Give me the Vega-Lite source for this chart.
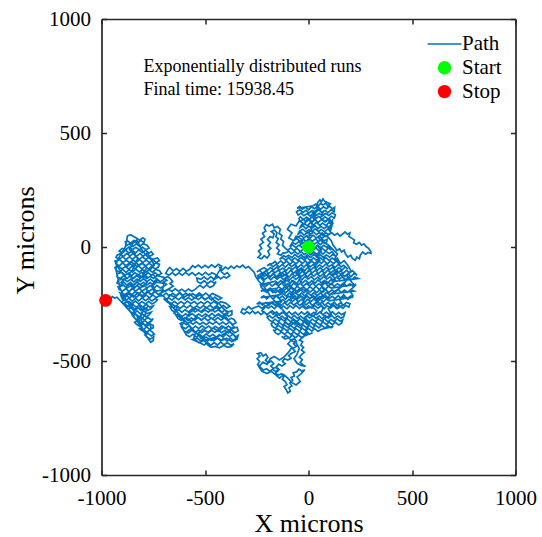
{
"$schema": "https://vega.github.io/schema/vega-lite/v6.json",
"width": 414, "height": 456,
"autosize": "none",
"padding": {"left": 101.5, "top": 19, "right": 26.5, "bottom": 62},
"background": "white",
"config": {"view": {"stroke": null}, "font": "Liberation Serif",
  "legend": {"labelFont": "Liberation Serif", "labelFontSize": 21, "labelColor": "#000", "symbolSize": 140, "padding": 0, "rowPadding": 1.8, "labelOffset": 7}},
"datasets": {
"path": [
{"x":0,"y":0},{"x":8,"y":12},{"x":-4,"y":22},{"x":6,"y":35},{"x":-6,"y":44},{"x":10,"y":52},{"x":2,"y":66},{"x":16,"y":74},{"x":8,"y":88},{"x":22,"y":96},{"x":14,"y":110},{"x":28,"y":118},{"x":20,"y":132},{"x":36,"y":140},{"x":28,"y":154},{"x":44,"y":162},{"x":38,"y":176},{"x":45,"y":196},
{"x":55,"y":207},{"x":62,"y":198},{"x":70,"y":211},{"x":78,"y":200},
{"x":105,"y":190},{"x":92,"y":180},{"x":84,"y":193},{"x":70,"y":184},{"x":58,"y":191},{"x":46,"y":178},{"x":34,"y":188},{"x":24,"y":181},
{"x":-55,"y":170},{"x":-42,"y":178},{"x":-30,"y":166},{"x":-14,"y":175},{"x":0,"y":163},{"x":14,"y":176},{"x":28,"y":168},{"x":44,"y":178},{"x":58,"y":165},{"x":72,"y":176},{"x":88,"y":168},{"x":102,"y":179},{"x":116,"y":167},{"x":126,"y":174},
{"x":124,"y":155},{"x":108,"y":163},{"x":94,"y":150},{"x":80,"y":161},{"x":64,"y":152},{"x":48,"y":164},{"x":34,"y":151},{"x":18,"y":160},{"x":2,"y":149},{"x":-12,"y":161},{"x":-26,"y":152},{"x":-42,"y":163},{"x":-58,"y":155},
{"x":-50,"y":140},{"x":-36,"y":149},{"x":-22,"y":137},{"x":-6,"y":147},{"x":8,"y":136},{"x":24,"y":150},{"x":38,"y":139},{"x":52,"y":148},{"x":68,"y":136},{"x":82,"y":147},{"x":98,"y":138},{"x":114,"y":150},{"x":130,"y":141},
{"x":125,"y":127},{"x":110,"y":135},{"x":96,"y":122},{"x":80,"y":132},{"x":66,"y":121},{"x":50,"y":134},{"x":36,"y":124},{"x":20,"y":135},{"x":6,"y":122},{"x":-10,"y":131},{"x":-24,"y":120},{"x":-40,"y":133},{"x":-46,"y":125},
{"x":-40,"y":112},{"x":-26,"y":121},{"x":-12,"y":110},{"x":4,"y":122},{"x":18,"y":109},{"x":32,"y":119},{"x":48,"y":108},{"x":62,"y":121},{"x":78,"y":111},{"x":92,"y":120},{"x":106,"y":108},{"x":116,"y":117},
{"x":112,"y":99},{"x":98,"y":107},{"x":84,"y":94},{"x":68,"y":105},{"x":54,"y":95},{"x":38,"y":108},{"x":24,"y":96},{"x":8,"y":106},{"x":-6,"y":93},{"x":-20,"y":104},{"x":-34,"y":97},
{"x":-40,"y":85},{"x":-26,"y":93},{"x":-12,"y":80},{"x":2,"y":92},{"x":16,"y":82},{"x":32,"y":94},{"x":46,"y":81},{"x":60,"y":91},{"x":76,"y":80},{"x":90,"y":92},{"x":104,"y":84},{"x":112,"y":90},
{"x":106,"y":71},{"x":92,"y":79},{"x":78,"y":66},{"x":62,"y":77},{"x":48,"y":68},{"x":32,"y":80},{"x":18,"y":67},{"x":2,"y":76},{"x":-12,"y":66},{"x":-28,"y":78},{"x":-44,"y":70},
{"x":-50,"y":57},{"x":-36,"y":65},{"x":-22,"y":52},{"x":-6,"y":63},{"x":8,"y":53},{"x":24,"y":66},{"x":38,"y":54},{"x":52,"y":63},{"x":68,"y":51},{"x":82,"y":62},{"x":98,"y":55},
{"x":112,"y":62},{"x":126,"y":52},{"x":140,"y":60},{"x":152,"y":48},{"x":166,"y":58},{"x":176,"y":66},{"x":188,"y":56},{"x":200,"y":62},{"x":196,"y":46},{"x":210,"y":38},{"x":222,"y":30},{"x":218,"y":18},{"x":232,"y":12},{"x":246,"y":20},{"x":256,"y":8},{"x":268,"y":14},{"x":278,"y":2},{"x":290,"y":-6},{"x":300,"y":-18},{"x":302,"y":-28},{"x":288,"y":-24},{"x":276,"y":-32},{"x":262,"y":-22},{"x":250,"y":-36},{"x":246,"y":-52},{"x":234,"y":-44},{"x":226,"y":-58},{"x":212,"y":-50},{"x":204,"y":-36},{"x":190,"y":-44},{"x":178,"y":-30},{"x":172,"y":-14},{"x":160,"y":-22},{"x":150,"y":-8},{"x":138,"y":-16},{"x":128,"y":-2},{"x":118,"y":10},{"x":110,"y":28},{"x":100,"y":38},
{"x":95,"y":43},{"x":80,"y":50},{"x":66,"y":38},{"x":52,"y":49},{"x":38,"y":40},{"x":22,"y":52},{"x":8,"y":39},{"x":-8,"y":50},{"x":-22,"y":40},{"x":-38,"y":51},{"x":-52,"y":42},{"x":-60,"y":47},
{"x":-70,"y":29},{"x":-56,"y":37},{"x":-42,"y":25},{"x":-26,"y":35},{"x":-12,"y":26},{"x":4,"y":38},{"x":18,"y":25},{"x":34,"y":36},{"x":48,"y":24},{"x":62,"y":35},{"x":76,"y":27},{"x":90,"y":34},
{"x":86,"y":15},{"x":72,"y":22},{"x":58,"y":10},{"x":42,"y":21},{"x":28,"y":12},{"x":12,"y":24},{"x":-4,"y":11},{"x":-18,"y":22},{"x":-34,"y":13},{"x":-48,"y":24},{"x":-62,"y":12},{"x":-78,"y":20},
{"x":-90,"y":1},{"x":-76,"y":9},{"x":-62,"y":-3},{"x":-46,"y":8},{"x":-32,"y":-2},{"x":-16,"y":10},{"x":-2,"y":-4},{"x":14,"y":6},{"x":28,"y":-5},{"x":44,"y":8},{"x":58,"y":-3},{"x":74,"y":7},{"x":88,"y":-2},{"x":96,"y":5},
{"x":110,"y":-13},{"x":96,"y":-5},{"x":82,"y":-17},{"x":66,"y":-6},{"x":52,"y":-18},{"x":36,"y":-4},{"x":22,"y":-15},{"x":6,"y":-6},{"x":-8,"y":-19},{"x":-24,"y":-8},{"x":-40,"y":-20},{"x":-56,"y":-6},{"x":-70,"y":-16},{"x":-86,"y":-4},{"x":-100,"y":-14},
{"x":-114,"y":-4},{"x":-126,"y":8},{"x":-120,"y":24},{"x":-134,"y":34},{"x":-128,"y":50},{"x":-142,"y":60},{"x":-136,"y":78},{"x":-150,"y":90},{"x":-166,"y":84},{"x":-174,"y":100},{"x":-190,"y":92},{"x":-204,"y":98},{"x":-214,"y":84},{"x":-206,"y":70},{"x":-222,"y":60},{"x":-212,"y":46},{"x":-230,"y":34},{"x":-218,"y":20},{"x":-236,"y":8},{"x":-226,"y":-6},{"x":-242,"y":-18},{"x":-230,"y":-32},{"x":-244,"y":-46},{"x":-226,"y":-52},{"x":-214,"y":-38},{"x":-200,"y":-48},{"x":-188,"y":-34},{"x":-196,"y":-18},{"x":-182,"y":-6},{"x":-196,"y":6},{"x":-184,"y":20},{"x":-198,"y":32},{"x":-186,"y":46},{"x":-172,"y":40},{"x":-166,"y":58},{"x":-180,"y":68},{"x":-164,"y":74},{"x":-152,"y":62},{"x":-158,"y":46},{"x":-146,"y":36},{"x":-156,"y":20},{"x":-142,"y":10},{"x":-154,"y":-4},{"x":-140,"y":-16},{"x":-150,"y":-30},{"x":-134,"y":-36},{"x":-122,"y":-26},
{"x":-110,"y":-26},{"x":-96,"y":-18},{"x":-82,"y":-30},{"x":-66,"y":-19},{"x":-52,"y":-31},{"x":-36,"y":-20},{"x":-20,"y":-33},{"x":-6,"y":-22},{"x":10,"y":-34},{"x":24,"y":-21},{"x":40,"y":-32},{"x":54,"y":-20},{"x":70,"y":-31},{"x":84,"y":-18},{"x":100,"y":-29},{"x":114,"y":-20},{"x":120,"y":-26},
{"x":130,"y":-40},{"x":116,"y":-33},{"x":102,"y":-45},{"x":86,"y":-34},{"x":72,"y":-46},{"x":56,"y":-33},{"x":40,"y":-44},{"x":26,"y":-32},{"x":10,"y":-46},{"x":-6,"y":-35},{"x":-20,"y":-47},{"x":-36,"y":-34},{"x":-50,"y":-45},{"x":-66,"y":-33},{"x":-80,"y":-47},{"x":-96,"y":-36},{"x":-110,"y":-44},{"x":-120,"y":-38},
{"x":-140,"y":-54},{"x":-126,"y":-46},{"x":-112,"y":-58},{"x":-96,"y":-47},{"x":-82,"y":-60},{"x":-66,"y":-48},{"x":-52,"y":-59},{"x":-36,"y":-46},{"x":-22,"y":-57},{"x":-6,"y":-45},{"x":8,"y":-60},{"x":24,"y":-48},{"x":38,"y":-58},{"x":54,"y":-45},{"x":70,"y":-57},{"x":84,"y":-47},{"x":100,"y":-60},{"x":114,"y":-49},{"x":128,"y":-58},{"x":140,"y":-50},
{"x":150,"y":-68},{"x":136,"y":-60},{"x":122,"y":-73},{"x":106,"y":-62},{"x":92,"y":-74},{"x":76,"y":-61},{"x":62,"y":-72},{"x":46,"y":-59},{"x":30,"y":-73},{"x":16,"y":-62},{"x":0,"y":-75},{"x":-14,"y":-61},{"x":-30,"y":-72},{"x":-44,"y":-60},{"x":-60,"y":-74},{"x":-74,"y":-63},{"x":-90,"y":-76},{"x":-104,"y":-62},{"x":-120,"y":-72},{"x":-134,"y":-61},{"x":-150,"y":-74},{"x":-162,"y":-63},{"x":-170,"y":-70},
{"x":-200,"y":-82},{"x":-186,"y":-74},{"x":-172,"y":-87},{"x":-156,"y":-75},{"x":-142,"y":-88},{"x":-126,"y":-76},{"x":-112,"y":-89},{"x":-96,"y":-74},{"x":-82,"y":-86},{"x":-66,"y":-75},{"x":-52,"y":-90},{"x":-36,"y":-77},{"x":-22,"y":-88},{"x":-6,"y":-74},{"x":8,"y":-87},{"x":24,"y":-76},{"x":38,"y":-90},{"x":54,"y":-78},{"x":68,"y":-88},{"x":84,"y":-74},{"x":98,"y":-86},{"x":114,"y":-77},{"x":128,"y":-90},{"x":144,"y":-76},{"x":158,"y":-87},{"x":170,"y":-80},
{"x":190,"y":-96},{"x":176,"y":-88},{"x":162,"y":-101},{"x":146,"y":-90},{"x":132,"y":-102},{"x":116,"y":-88},{"x":102,"y":-100},{"x":86,"y":-89},{"x":72,"y":-103},{"x":56,"y":-91},{"x":42,"y":-102},{"x":26,"y":-88},{"x":12,"y":-100},{"x":-4,"y":-90},{"x":-18,"y":-104},{"x":-34,"y":-91},{"x":-48,"y":-101},{"x":-64,"y":-87},{"x":-78,"y":-99},{"x":-94,"y":-90},{"x":-108,"y":-104},{"x":-124,"y":-92},{"x":-138,"y":-101},{"x":-154,"y":-88},{"x":-168,"y":-100},{"x":-184,"y":-90},{"x":-198,"y":-102},{"x":-214,"y":-91},{"x":-230,"y":-98},
{"x":-250,"y":-110},{"x":-236,"y":-102},{"x":-222,"y":-116},{"x":-206,"y":-104},{"x":-192,"y":-117},{"x":-176,"y":-103},{"x":-162,"y":-114},{"x":-146,"y":-101},{"x":-132,"y":-116},{"x":-116,"y":-105},{"x":-102,"y":-118},{"x":-86,"y":-103},{"x":-72,"y":-115},{"x":-56,"y":-102},{"x":-42,"y":-117},{"x":-26,"y":-105},{"x":-12,"y":-118},{"x":4,"y":-103},{"x":18,"y":-114},{"x":34,"y":-102},{"x":48,"y":-117},{"x":64,"y":-104},{"x":78,"y":-116},{"x":94,"y":-101},{"x":108,"y":-113},{"x":124,"y":-102},{"x":138,"y":-117},{"x":154,"y":-105},{"x":168,"y":-115},{"x":184,"y":-102},{"x":198,"y":-114},{"x":212,"y":-104},{"x":220,"y":-110},
{"x":235,"y":-124},{"x":220,"y":-116},{"x":206,"y":-130},{"x":190,"y":-117},{"x":176,"y":-129},{"x":160,"y":-118},{"x":146,"y":-131},{"x":130,"y":-117},{"x":116,"y":-128},{"x":100,"y":-116},{"x":86,"y":-131},{"x":70,"y":-119},{"x":56,"y":-130},{"x":40,"y":-116},{"x":26,"y":-128},{"x":10,"y":-117},{"x":-4,"y":-131},{"x":-20,"y":-119},{"x":-34,"y":-130},{"x":-50,"y":-116},{"x":-64,"y":-128},{"x":-80,"y":-118},{"x":-94,"y":-132},{"x":-110,"y":-119},{"x":-124,"y":-129},{"x":-140,"y":-116},{"x":-154,"y":-130},{"x":-170,"y":-118},{"x":-184,"y":-131},{"x":-200,"y":-119},{"x":-214,"y":-129},{"x":-230,"y":-117},{"x":-246,"y":-126},
{"x":-240,"y":-138},{"x":-226,"y":-130},{"x":-212,"y":-143},{"x":-196,"y":-131},{"x":-182,"y":-144},{"x":-166,"y":-130},{"x":-152,"y":-142},{"x":-136,"y":-129},{"x":-122,"y":-143},{"x":-106,"y":-132},{"x":-92,"y":-145},{"x":-76,"y":-130},{"x":-62,"y":-142},{"x":-46,"y":-131},{"x":-32,"y":-144},{"x":-16,"y":-129},{"x":-2,"y":-141},{"x":14,"y":-130},{"x":28,"y":-144},{"x":44,"y":-132},{"x":58,"y":-143},{"x":74,"y":-129},{"x":88,"y":-141},{"x":104,"y":-131},{"x":118,"y":-145},{"x":134,"y":-132},{"x":148,"y":-142},{"x":164,"y":-130},{"x":178,"y":-143},{"x":194,"y":-131},{"x":208,"y":-144},{"x":224,"y":-132},{"x":240,"y":-138},
{"x":120,"y":-152},{"x":106,"y":-145},{"x":92,"y":-158},{"x":76,"y":-146},{"x":62,"y":-157},{"x":46,"y":-144},{"x":32,"y":-158},{"x":16,"y":-147},{"x":2,"y":-159},{"x":-14,"y":-145},{"x":-28,"y":-157},{"x":-44,"y":-146},{"x":-58,"y":-160},{"x":-74,"y":-147},{"x":-88,"y":-158},{"x":-104,"y":-145},{"x":-118,"y":-157},{"x":-134,"y":-147},{"x":-148,"y":-159},{"x":-160,"y":-150},
{"x":-235,"y":-166},{"x":-220,"y":-158},{"x":-206,"y":-171},{"x":-190,"y":-159},{"x":-176,"y":-172},{"x":-160,"y":-160},{"x":-146,"y":-171},{"x":-130,"y":-158},{"x":-116,"y":-172},{"x":-100,"y":-161},{"x":-86,"y":-173},{"x":-70,"y":-158},{"x":-56,"y":-170},{"x":-40,"y":-159},{"x":-26,"y":-172},{"x":-10,"y":-160},{"x":4,"y":-171},{"x":20,"y":-158},{"x":34,"y":-172},{"x":50,"y":-161},{"x":64,"y":-170},{"x":80,"y":-157},{"x":94,"y":-171},{"x":110,"y":-160},{"x":124,"y":-173},{"x":140,"y":-161},{"x":154,"y":-170},{"x":170,"y":-158},{"x":184,"y":-172},{"x":200,"y":-161},{"x":214,"y":-171},{"x":230,"y":-164},
{"x":110,"y":-180},{"x":96,"y":-172},{"x":82,"y":-186},{"x":66,"y":-174},{"x":52,"y":-187},{"x":36,"y":-173},{"x":22,"y":-185},{"x":6,"y":-174},{"x":-8,"y":-188},{"x":-24,"y":-175},{"x":-38,"y":-186},{"x":-54,"y":-172},{"x":-68,"y":-185},{"x":-84,"y":-175},{"x":-98,"y":-188},{"x":-114,"y":-174},{"x":-128,"y":-186},{"x":-144,"y":-175},{"x":-150,"y":-180},
{"x":-230,"y":-194},{"x":-216,"y":-186},{"x":-202,"y":-199},{"x":-186,"y":-187},{"x":-172,"y":-200},{"x":-156,"y":-186},{"x":-142,"y":-198},{"x":-126,"y":-187},{"x":-112,"y":-201},{"x":-96,"y":-189},{"x":-82,"y":-200},{"x":-66,"y":-186},{"x":-52,"y":-199},{"x":-36,"y":-188},{"x":-22,"y":-201},{"x":-6,"y":-187},{"x":8,"y":-198},{"x":24,"y":-186},{"x":38,"y":-200},{"x":54,"y":-189},{"x":68,"y":-199},{"x":84,"y":-186},{"x":98,"y":-200},{"x":114,"y":-188},{"x":128,"y":-198},{"x":144,"y":-186},{"x":158,"y":-200},{"x":174,"y":-189},{"x":188,"y":-199},{"x":204,"y":-187},{"x":220,"y":-193},
{"x":100,"y":-208},{"x":86,"y":-200},{"x":72,"y":-213},{"x":56,"y":-201},{"x":42,"y":-214},{"x":26,"y":-200},{"x":12,"y":-212},{"x":-4,"y":-201},{"x":-18,"y":-215},{"x":-34,"y":-202},{"x":-48,"y":-213},{"x":-64,"y":-200},{"x":-78,"y":-212},{"x":-94,"y":-202},{"x":-108,"y":-215},{"x":-124,"y":-203},{"x":-140,"y":-210},
{"x":-230,"y":-222},{"x":-216,"y":-214},{"x":-202,"y":-227},{"x":-186,"y":-215},{"x":-172,"y":-228},{"x":-156,"y":-214},{"x":-142,"y":-226},{"x":-126,"y":-215},{"x":-112,"y":-229},{"x":-96,"y":-216},{"x":-82,"y":-228},{"x":-66,"y":-214},{"x":-52,"y":-227},{"x":-36,"y":-216},{"x":-22,"y":-229},{"x":-6,"y":-215},{"x":8,"y":-226},{"x":24,"y":-214},{"x":38,"y":-228},{"x":54,"y":-217},{"x":68,"y":-227},{"x":84,"y":-214},{"x":98,"y":-228},{"x":114,"y":-216},{"x":128,"y":-226},{"x":144,"y":-213},{"x":158,"y":-227},{"x":174,"y":-216},{"x":188,"y":-226},{"x":204,"y":-215},{"x":210,"y":-221},
{"x":100,"y":-236},{"x":86,"y":-228},{"x":72,"y":-241},{"x":56,"y":-229},{"x":42,"y":-242},{"x":26,"y":-228},{"x":12,"y":-240},{"x":-4,"y":-229},{"x":-18,"y":-243},{"x":-34,"y":-230},{"x":-48,"y":-241},{"x":-64,"y":-228},{"x":-78,"y":-240},{"x":-94,"y":-230},{"x":-108,"y":-243},{"x":-124,"y":-231},{"x":-140,"y":-238},
{"x":-250,"y":-250},{"x":-236,"y":-242},{"x":-222,"y":-255},{"x":-206,"y":-243},{"x":-192,"y":-256},{"x":-176,"y":-242},{"x":-162,"y":-254},{"x":-146,"y":-243},{"x":-132,"y":-257},{"x":-116,"y":-244},{"x":-102,"y":-256},{"x":-86,"y":-242},{"x":-72,"y":-255},{"x":-56,"y":-244},{"x":-42,"y":-257},{"x":-26,"y":-243},{"x":-12,"y":-254},{"x":4,"y":-242},{"x":18,"y":-256},{"x":34,"y":-245},{"x":48,"y":-255},{"x":64,"y":-242},{"x":78,"y":-256},{"x":94,"y":-244},{"x":108,"y":-254},{"x":124,"y":-242},{"x":138,"y":-256},{"x":154,"y":-245},{"x":168,"y":-255},{"x":184,"y":-243},{"x":200,"y":-249},
{"x":195,"y":-264},{"x":180,"y":-256},{"x":166,"y":-269},{"x":150,"y":-257},{"x":136,"y":-270},{"x":120,"y":-256},{"x":106,"y":-268},{"x":90,"y":-257},{"x":76,"y":-271},{"x":60,"y":-258},{"x":46,"y":-269},{"x":30,"y":-256},{"x":16,"y":-268},{"x":0,"y":-258},{"x":-14,"y":-271},{"x":-30,"y":-259},{"x":-44,"y":-270},{"x":-60,"y":-256},{"x":-74,"y":-268},{"x":-90,"y":-258},{"x":-104,"y":-271},{"x":-120,"y":-259},{"x":-134,"y":-269},{"x":-150,"y":-256},{"x":-164,"y":-270},{"x":-180,"y":-259},{"x":-194,"y":-268},{"x":-210,"y":-257},{"x":-224,"y":-270},{"x":-240,"y":-259},{"x":-260,"y":-265},
{"x":-276,"y":-272},{"x":-290,"y":-262},{"x":-304,"y":-276},{"x":-318,"y":-270},{"x":-326,"y":-286},{"x":-312,"y":-294},{"x":-298,"y":-284},{"x":-284,"y":-292},{"x":-270,"y":-280},
{"x":-258,"y":-292},{"x":-244,"y":-284},{"x":-230,"y":-297},{"x":-214,"y":-285},{"x":-200,"y":-298},{"x":-184,"y":-284},{"x":-170,"y":-296},{"x":-154,"y":-285},{"x":-140,"y":-299},{"x":-124,"y":-286},{"x":-110,"y":-298},{"x":-94,"y":-284},{"x":-80,"y":-297},{"x":-64,"y":-286},{"x":-50,"y":-299},{"x":-34,"y":-285},{"x":-20,"y":-296},{"x":-4,"y":-284},{"x":10,"y":-298},{"x":26,"y":-287},{"x":40,"y":-297},{"x":56,"y":-284},{"x":70,"y":-298},{"x":86,"y":-286},{"x":100,"y":-296},{"x":116,"y":-284},{"x":130,"y":-298},{"x":146,"y":-287},{"x":160,"y":-297},{"x":176,"y":-288},
{"x":170,"y":-306},{"x":156,"y":-312},{"x":142,"y":-302},{"x":126,"y":-313},{"x":112,"y":-300},{"x":96,"y":-312},{"x":82,"y":-301},{"x":66,"y":-314},{"x":52,"y":-302},{"x":36,"y":-313},{"x":22,"y":-300},{"x":6,"y":-312},{"x":-8,"y":-301},{"x":-24,"y":-314},{"x":-38,"y":-303},{"x":-54,"y":-313},{"x":-68,"y":-300},{"x":-84,"y":-312},{"x":-98,"y":-302},{"x":-114,"y":-315},{"x":-128,"y":-303},{"x":-144,"y":-313},{"x":-158,"y":-300},{"x":-174,"y":-312},{"x":-188,"y":-302},{"x":-200,"y":-308},
{"x":-190,"y":-320},{"x":-176,"y":-328},{"x":-162,"y":-316},{"x":-146,"y":-327},{"x":-132,"y":-314},{"x":-116,"y":-326},{"x":-102,"y":-315},{"x":-86,"y":-328},{"x":-72,"y":-316},{"x":-56,"y":-327},{"x":-42,"y":-314},{"x":-26,"y":-326},{"x":-12,"y":-315},{"x":4,"y":-328},{"x":18,"y":-316},{"x":34,"y":-327},{"x":48,"y":-314},{"x":64,"y":-326},{"x":78,"y":-315},{"x":94,"y":-328},{"x":108,"y":-317},{"x":124,"y":-327},{"x":138,"y":-315},{"x":154,"y":-326},{"x":165,"y":-320},
{"x":160,"y":-334},{"x":146,"y":-342},{"x":130,"y":-330},{"x":116,"y":-341},{"x":100,"y":-329},{"x":86,"y":-340},{"x":70,"y":-328},{"x":56,"y":-341},{"x":40,"y":-330},{"x":26,"y":-342},{"x":10,"y":-329},{"x":-6,"y":-340},{"x":-20,"y":-328},{"x":-36,"y":-342},{"x":-50,"y":-331},{"x":-66,"y":-341},{"x":-80,"y":-328},{"x":-96,"y":-340},{"x":-110,"y":-330},{"x":-126,"y":-343},{"x":-140,"y":-331},{"x":-156,"y":-341},{"x":-170,"y":-329},{"x":-180,"y":-336},
{"x":-175,"y":-348},{"x":-160,"y":-356},{"x":-146,"y":-343},{"x":-130,"y":-355},{"x":-116,"y":-342},{"x":-100,"y":-354},{"x":-86,"y":-344},{"x":-70,"y":-357},{"x":-56,"y":-345},{"x":-40,"y":-355},{"x":-26,"y":-342},{"x":-10,"y":-354},{"x":4,"y":-344},{"x":20,"y":-356},{"x":34,"y":-343},{"x":50,"y":-355},{"x":64,"y":-344},{"x":80,"y":-356},{"x":94,"y":-345},{"x":110,"y":-354},{"x":120,"y":-348},
{"x":60,"y":-362},{"x":46,"y":-370},{"x":30,"y":-358},{"x":16,"y":-369},{"x":0,"y":-357},{"x":-14,"y":-368},{"x":-30,"y":-356},{"x":-44,"y":-370},{"x":-60,"y":-358},{"x":-74,"y":-369},{"x":-90,"y":-357},{"x":-104,"y":-368},{"x":-120,"y":-356},{"x":-134,"y":-370},{"x":-150,"y":-359},{"x":-164,"y":-368},{"x":-170,"y":-362},
{"x":-160,"y":-376},{"x":-146,"y":-384},{"x":-130,"y":-372},{"x":-116,"y":-383},{"x":-100,"y":-371},{"x":-86,"y":-384},{"x":-70,"y":-373},{"x":-54,"y":-385},{"x":-40,"y":-372},{"x":-24,"y":-383},{"x":-10,"y":-371},{"x":6,"y":-382},{"x":20,"y":-376},
{"x":-20,"y":-390},{"x":-34,"y":-397},{"x":-48,"y":-386},{"x":-62,"y":-398},{"x":-78,"y":-387},{"x":-92,"y":-399},{"x":-108,"y":-388},{"x":-122,"y":-398},{"x":-130,"y":-392},
{"x":-112,"y":-404},{"x":-96,"y":-398},{"x":-84,"y":-410},{"x":-70,"y":-402},{"x":-58,"y":-414},{"x":-72,"y":-424},{"x":-60,"y":-436},{"x":-76,"y":-446},{"x":-64,"y":-458},{"x":-82,"y":-466},{"x":-96,"y":-476},{"x":-84,"y":-488},{"x":-100,"y":-496},{"x":-116,"y":-490},{"x":-126,"y":-502},{"x":-112,"y":-512},{"x":-128,"y":-522},{"x":-144,"y":-514},{"x":-156,"y":-526},{"x":-142,"y":-538},{"x":-158,"y":-546},{"x":-174,"y":-536},{"x":-188,"y":-546},{"x":-202,"y":-534},{"x":-218,"y":-540},{"x":-232,"y":-528},{"x":-246,"y":-516},{"x":-236,"y":-502},{"x":-248,"y":-490},{"x":-234,"y":-478},{"x":-246,"y":-468},{"x":-230,"y":-464},{"x":-220,"y":-478},{"x":-206,"y":-470},{"x":-196,"y":-484},{"x":-208,"y":-496},{"x":-194,"y":-508},{"x":-180,"y":-500},{"x":-168,"y":-512},{"x":-182,"y":-522},{"x":-170,"y":-532},{"x":-156,"y":-528},{"x":-146,"y":-542},{"x":-160,"y":-554},{"x":-146,"y":-562},{"x":-130,"y":-556},{"x":-118,"y":-566},{"x":-126,"y":-580},{"x":-112,"y":-590},{"x":-104,"y":-604},{"x":-118,"y":-612},{"x":-108,"y":-626},{"x":-100,"y":-640},{"x":-88,"y":-632},{"x":-94,"y":-618},{"x":-80,"y":-610},{"x":-90,"y":-596},{"x":-76,"y":-586},{"x":-84,"y":-572},{"x":-68,"y":-566},{"x":-74,"y":-552},{"x":-58,"y":-548},{"x":-46,"y":-536},{"x":-32,"y":-544},{"x":-18,"y":-538},
{"x":-35,"y":-555},{"x":-55,"y":-570},{"x":-40,"y":-590},{"x":-60,"y":-605},{"x":-80,"y":-595},{"x":-100,"y":-575},{"x":-120,"y":-560},{"x":-140,"y":-575},{"x":-160,"y":-560},{"x":-180,"y":-545},{"x":-200,"y":-555},{"x":-225,"y":-545},{"x":-240,"y":-525},{"x":-220,"y":-505},{"x":-200,"y":-515},{"x":-185,"y":-490},{"x":-165,"y":-480},{"x":-140,"y":-495},{"x":-115,"y":-480},{"x":-95,"y":-460},{"x":-80,"y":-440},{"x":-100,"y":-425},{"x":-85,"y":-410},{"x":-60,"y":-420},{"x":-45,"y":-445},{"x":-55,"y":-470},{"x":-70,"y":-490},{"x":-55,"y":-510},{"x":-35,"y":-520},
{"x":-14,"y":-524},{"x":-28,"y":-516},{"x":-40,"y":-506},{"x":-30,"y":-494},{"x":-44,"y":-484},{"x":-32,"y":-470},{"x":-20,"y":-462},{"x":-34,"y":-452},{"x":-24,"y":-440},{"x":-38,"y":-430},{"x":-28,"y":-416},{"x":-44,"y":-408},{"x":-30,"y":-398},{"x":-16,"y":-386},{"x":-4,"y":-376},{"x":-14,"y":-362},
{"x":5,"y":-340},{"x":-20,"y":-318},{"x":-2,"y":-295},{"x":25,"y":-305},{"x":40,"y":-280},{"x":18,"y":-262},{"x":-8,"y":-270},{"x":-30,"y":-250},{"x":-18,"y":-225},{"x":-45,"y":-210},{"x":-60,"y":-230},{"x":-85,"y":-215},{"x":-70,"y":-190},{"x":-95,"y":-170},{"x":-80,"y":-148},{"x":-55,"y":-160},{"x":-40,"y":-135},{"x":-60,"y":-115},{"x":-35,"y":-100},{"x":-15,"y":-120},{"x":5,"y":-98},{"x":-10,"y":-75},{"x":15,"y":-60},{"x":35,"y":-80},{"x":55,"y":-60},{"x":40,"y":-35},{"x":62,"y":-18},{"x":45,"y":5},{"x":22,"y":-10},{"x":0,"y":10},{"x":-18,"y":-8},{"x":-40,"y":5},{"x":-28,"y":30},{"x":-50,"y":45},{"x":-72,"y":28},{"x":-95,"y":40},{"x":-80,"y":62},{"x":-102,"y":78},{"x":-85,"y":100},{"x":-60,"y":92},{"x":-45,"y":115},{"x":-20,"y":100},{"x":-5,"y":125},{"x":15,"y":105},{"x":35,"y":128},{"x":20,"y":150},{"x":45,"y":165},{"x":70,"y":150},{"x":58,"y":128},{"x":82,"y":110},{"x":100,"y":125},{"x":118,"y":105},{"x":95,"y":85},{"x":108,"y":62},{"x":85,"y":45},{"x":65,"y":62},{"x":48,"y":40},{"x":70,"y":20},{"x":95,"y":10},{"x":118,"y":-10},{"x":140,"y":-30},{"x":125,"y":-55},{"x":150,"y":-75},{"x":172,"y":-60},{"x":190,"y":-80},{"x":205,"y":-105},{"x":185,"y":-125},{"x":205,"y":-150},{"x":225,"y":-170},{"x":200,"y":-190},{"x":215,"y":-215},{"x":190,"y":-230},{"x":170,"y":-210},{"x":150,"y":-230},{"x":165,"y":-255},{"x":140,"y":-270},{"x":118,"y":-250},{"x":95,"y":-270},{"x":110,"y":-295},{"x":85,"y":-310},{"x":60,"y":-290},{"x":72,"y":-265},{"x":50,"y":-245},{"x":28,"y":-225},{"x":52,"y":-205},{"x":75,"y":-190},{"x":60,"y":-165},{"x":85,"y":-150},{"x":110,"y":-165},{"x":130,"y":-145},{"x":115,"y":-120},{"x":140,"y":-105},{"x":160,"y":-125},{"x":180,"y":-150},{"x":160,"y":-175},{"x":135,"y":-190},{"x":110,"y":-205},{"x":90,"y":-225},{"x":65,"y":-215},{"x":40,"y":-235},{"x":15,"y":-215},{"x":-10,"y":-195},{"x":-35,"y":-180},{"x":-60,"y":-195},{"x":-85,"y":-180},{"x":-110,"y":-200},{"x":-135,"y":-185},{"x":-160,"y":-200},{"x":-185,"y":-180},{"x":-210,"y":-195},{"x":-230,"y":-175},{"x":-215,"y":-150},{"x":-235,"y":-130},{"x":-210,"y":-115},{"x":-190,"y":-135},{"x":-170,"y":-115},{"x":-150,"y":-135},{"x":-125,"y":-115},{"x":-105,"y":-130},{"x":-120,"y":-155},{"x":-100,"y":-175},{"x":-125,"y":-195},{"x":-150,"y":-215},{"x":-130,"y":-240},{"x":-155,"y":-260},{"x":-180,"y":-245},{"x":-205,"y":-260},{"x":-225,"y":-280},{"x":-200,"y":-295},{"x":-175,"y":-280},{"x":-150,"y":-300},{"x":-125,"y":-285},{"x":-100,"y":-305},{"x":-115,"y":-330},{"x":-90,"y":-345},{"x":-65,"y":-330},{"x":-40,"y":-345},
{"x":-60,"y":-330},{"x":-100,"y":-300},{"x":-140,"y":-260},{"x":-180,"y":-220},{"x":-210,"y":-180},{"x":-240,"y":-150},{"x":-255,"y":-130},{"x":-262,"y":-112},{"x":-276,"y":-98},{"x":-290,"y":-86},{"x":-304,"y":-92},{"x":-318,"y":-80},{"x":-332,"y":-90},{"x":-346,"y":-82},{"x":-360,"y":-94},{"x":-374,"y":-84},{"x":-388,"y":-96},{"x":-402,"y":-88},{"x":-416,"y":-100},{"x":-428,"y":-92},{"x":-420,"y":-110},{"x":-406,"y":-120},{"x":-392,"y":-112},{"x":-380,"y":-126},{"x":-396,"y":-136},{"x":-410,"y":-130},{"x":-424,"y":-140},{"x":-438,"y":-128},{"x":-450,"y":-138},{"x":-462,"y":-148},{"x":-440,"y":-118},{"x":-425,"y":-96},
{"x":-420,"y":-84},{"x":-436,"y":-76},{"x":-452,"y":-89},{"x":-468,"y":-78},{"x":-484,"y":-91},{"x":-500,"y":-80},{"x":-516,"y":-92},{"x":-532,"y":-79},{"x":-548,"y":-90},{"x":-560,"y":-82},
{"x":-574,"y":-98},{"x":-590,"y":-106},{"x":-606,"y":-94},{"x":-622,"y":-107},{"x":-638,"y":-95},{"x":-654,"y":-105},{"x":-670,"y":-90},{"x":-680,"y":-100},
{"x":-690,"y":-116},{"x":-674,"y":-124},{"x":-658,"y":-112},{"x":-642,"y":-125},{"x":-626,"y":-113},{"x":-610,"y":-124},{"x":-594,"y":-111},{"x":-578,"y":-123},{"x":-562,"y":-112},{"x":-546,"y":-125},{"x":-530,"y":-113},{"x":-514,"y":-124},{"x":-498,"y":-111},{"x":-482,"y":-123},{"x":-466,"y":-113},{"x":-450,"y":-120},
{"x":-440,"y":-134},{"x":-456,"y":-142},{"x":-472,"y":-130},{"x":-488,"y":-143},{"x":-504,"y":-131},{"x":-520,"y":-142},{"x":-540,"y":-136},
{"x":-536,"y":-152},{"x":-520,"y":-160},{"x":-504,"y":-148},{"x":-488,"y":-161},{"x":-472,"y":-149},{"x":-456,"y":-158},{"x":-446,"y":-152},
{"x":-460,"y":-170},{"x":-476,"y":-178},{"x":-492,"y":-166},{"x":-508,"y":-179},{"x":-524,"y":-168},{"x":-534,"y":-175},
{"x":-548,"y":-186},{"x":-564,"y":-194},{"x":-580,"y":-184},{"x":-596,"y":-196},{"x":-612,"y":-185},{"x":-628,"y":-194},{"x":-644,"y":-183},{"x":-660,"y":-195},{"x":-676,"y":-185},{"x":-692,"y":-194},{"x":-708,"y":-188},
{"x":-700,"y":-172},{"x":-686,"y":-164},{"x":-700,"y":-154},{"x":-684,"y":-146},{"x":-698,"y":-136},{"x":-680,"y":-130},{"x":-666,"y":-140},{"x":-656,"y":-152},{"x":-670,"y":-160},{"x":-654,"y":-172},{"x":-668,"y":-180},
{"x":-720,"y":-206},{"x":-704,"y":-214},{"x":-688,"y":-202},{"x":-672,"y":-215},{"x":-656,"y":-203},{"x":-640,"y":-214},{"x":-624,"y":-201},{"x":-608,"y":-213},{"x":-592,"y":-203},{"x":-576,"y":-215},{"x":-560,"y":-204},{"x":-544,"y":-214},{"x":-528,"y":-201},{"x":-512,"y":-213},{"x":-496,"y":-202},{"x":-480,"y":-215},{"x":-464,"y":-204},{"x":-450,"y":-210},
{"x":-420,"y":-224},{"x":-436,"y":-232},{"x":-452,"y":-220},{"x":-468,"y":-233},{"x":-484,"y":-221},{"x":-500,"y":-232},{"x":-516,"y":-219},{"x":-532,"y":-231},{"x":-548,"y":-221},{"x":-564,"y":-233},{"x":-580,"y":-222},{"x":-596,"y":-232},{"x":-612,"y":-220},{"x":-628,"y":-231},{"x":-644,"y":-221},{"x":-660,"y":-233},{"x":-676,"y":-222},{"x":-692,"y":-230},{"x":-700,"y":-226},
{"x":-680,"y":-242},{"x":-664,"y":-250},{"x":-648,"y":-238},{"x":-632,"y":-251},{"x":-616,"y":-239},{"x":-600,"y":-250},{"x":-584,"y":-237},{"x":-568,"y":-249},{"x":-552,"y":-239},{"x":-536,"y":-251},{"x":-520,"y":-240},{"x":-504,"y":-250},{"x":-488,"y":-238},{"x":-472,"y":-249},{"x":-456,"y":-239},{"x":-440,"y":-251},{"x":-424,"y":-240},{"x":-400,"y":-246},
{"x":-380,"y":-260},{"x":-396,"y":-268},{"x":-412,"y":-256},{"x":-428,"y":-269},{"x":-444,"y":-257},{"x":-460,"y":-268},{"x":-476,"y":-255},{"x":-492,"y":-267},{"x":-508,"y":-257},{"x":-524,"y":-269},{"x":-540,"y":-258},{"x":-556,"y":-268},{"x":-572,"y":-256},{"x":-588,"y":-267},{"x":-604,"y":-257},{"x":-620,"y":-269},{"x":-636,"y":-258},{"x":-652,"y":-266},{"x":-670,"y":-262},
{"x":-660,"y":-278},{"x":-644,"y":-286},{"x":-628,"y":-274},{"x":-612,"y":-287},{"x":-596,"y":-275},{"x":-580,"y":-286},{"x":-564,"y":-273},{"x":-548,"y":-285},{"x":-532,"y":-275},{"x":-516,"y":-287},{"x":-500,"y":-276},{"x":-484,"y":-286},{"x":-468,"y":-274},{"x":-452,"y":-285},{"x":-436,"y":-275},{"x":-420,"y":-287},{"x":-404,"y":-276},{"x":-388,"y":-284},{"x":-370,"y":-280},
{"x":-370,"y":-296},{"x":-386,"y":-304},{"x":-402,"y":-292},{"x":-418,"y":-305},{"x":-434,"y":-293},{"x":-450,"y":-304},{"x":-466,"y":-291},{"x":-482,"y":-303},{"x":-498,"y":-293},{"x":-514,"y":-305},{"x":-530,"y":-294},{"x":-546,"y":-304},{"x":-562,"y":-292},{"x":-578,"y":-303},{"x":-594,"y":-293},{"x":-610,"y":-305},{"x":-626,"y":-294},{"x":-640,"y":-300},
{"x":-630,"y":-314},{"x":-614,"y":-322},{"x":-598,"y":-310},{"x":-582,"y":-323},{"x":-566,"y":-311},{"x":-550,"y":-322},{"x":-534,"y":-309},{"x":-518,"y":-321},{"x":-502,"y":-311},{"x":-486,"y":-323},{"x":-470,"y":-312},{"x":-454,"y":-322},{"x":-438,"y":-310},{"x":-422,"y":-321},{"x":-406,"y":-311},{"x":-390,"y":-322},{"x":-374,"y":-312},{"x":-360,"y":-318},
{"x":-350,"y":-332},{"x":-366,"y":-340},{"x":-382,"y":-328},{"x":-398,"y":-341},{"x":-414,"y":-329},{"x":-430,"y":-340},{"x":-446,"y":-327},{"x":-462,"y":-339},{"x":-478,"y":-329},{"x":-494,"y":-341},{"x":-510,"y":-330},{"x":-526,"y":-340},{"x":-542,"y":-328},{"x":-558,"y":-339},{"x":-574,"y":-329},{"x":-590,"y":-341},{"x":-606,"y":-330},{"x":-620,"y":-336},
{"x":-610,"y":-350},{"x":-594,"y":-358},{"x":-578,"y":-346},{"x":-562,"y":-359},{"x":-546,"y":-347},{"x":-530,"y":-358},{"x":-514,"y":-345},{"x":-498,"y":-357},{"x":-482,"y":-347},{"x":-466,"y":-359},{"x":-450,"y":-348},{"x":-434,"y":-358},{"x":-418,"y":-346},{"x":-402,"y":-357},{"x":-386,"y":-347},{"x":-370,"y":-358},{"x":-345,"y":-352},
{"x":-340,"y":-368},{"x":-356,"y":-376},{"x":-372,"y":-364},{"x":-388,"y":-377},{"x":-404,"y":-365},{"x":-420,"y":-376},{"x":-436,"y":-363},{"x":-452,"y":-375},{"x":-468,"y":-365},{"x":-484,"y":-377},{"x":-500,"y":-366},{"x":-516,"y":-376},{"x":-532,"y":-364},{"x":-548,"y":-375},{"x":-564,"y":-365},{"x":-580,"y":-377},{"x":-600,"y":-370},
{"x":-590,"y":-386},{"x":-574,"y":-394},{"x":-558,"y":-382},{"x":-542,"y":-395},{"x":-526,"y":-383},{"x":-510,"y":-394},{"x":-494,"y":-381},{"x":-478,"y":-393},{"x":-462,"y":-383},{"x":-446,"y":-395},{"x":-430,"y":-384},{"x":-414,"y":-394},{"x":-398,"y":-382},{"x":-382,"y":-393},{"x":-366,"y":-383},{"x":-350,"y":-394},{"x":-340,"y":-388},
{"x":-345,"y":-404},{"x":-361,"y":-412},{"x":-377,"y":-400},{"x":-393,"y":-413},{"x":-409,"y":-401},{"x":-425,"y":-412},{"x":-441,"y":-399},{"x":-457,"y":-411},{"x":-473,"y":-401},{"x":-489,"y":-413},{"x":-505,"y":-402},{"x":-521,"y":-412},{"x":-537,"y":-400},{"x":-560,"y":-406},
{"x":-520,"y":-422},{"x":-504,"y":-430},{"x":-488,"y":-418},{"x":-472,"y":-431},{"x":-456,"y":-419},{"x":-440,"y":-430},{"x":-424,"y":-417},{"x":-408,"y":-429},{"x":-392,"y":-419},{"x":-376,"y":-431},{"x":-360,"y":-424},
{"x":-372,"y":-436},{"x":-390,"y":-440},{"x":-410,"y":-432},{"x":-430,"y":-442},{"x":-450,"y":-436},{"x":-470,"y":-440},{"x":-486,"y":-430},
{"x":-505,"y":-410},{"x":-530,"y":-420},{"x":-555,"y":-400},{"x":-545,"y":-375},{"x":-570,"y":-360},{"x":-595,"y":-375},{"x":-615,"y":-350},{"x":-600,"y":-325},{"x":-625,"y":-305},{"x":-650,"y":-290},{"x":-635,"y":-265},{"x":-660,"y":-250},{"x":-685,"y":-235},{"x":-670,"y":-210},{"x":-645,"y":-220},{"x":-620,"y":-200},{"x":-600,"y":-220},{"x":-575,"y":-205},{"x":-550,"y":-225},{"x":-525,"y":-210},{"x":-500,"y":-230},{"x":-475,"y":-215},{"x":-455,"y":-235},{"x":-430,"y":-250},{"x":-410,"y":-270},{"x":-390,"y":-290},{"x":-415,"y":-310},{"x":-440,"y":-295},{"x":-465,"y":-315},{"x":-490,"y":-300},{"x":-515,"y":-320},{"x":-540,"y":-305},{"x":-565,"y":-325},{"x":-590,"y":-310},{"x":-570,"y":-285},{"x":-545,"y":-270},{"x":-520,"y":-285},{"x":-495,"y":-265},{"x":-470,"y":-280},{"x":-445,"y":-265},{"x":-420,"y":-285},{"x":-400,"y":-305},{"x":-380,"y":-330},{"x":-360,"y":-350},{"x":-385,"y":-365},{"x":-410,"y":-350},{"x":-435,"y":-370},{"x":-460,"y":-355},{"x":-485,"y":-375},{"x":-510,"y":-360},{"x":-535,"y":-380},{"x":-520,"y":-400},{"x":-495,"y":-395},{"x":-470,"y":-410},{"x":-445,"y":-395},{"x":-420,"y":-410},{"x":-395,"y":-400},{"x":-370,"y":-415},{"x":-350,"y":-400},{"x":-365,"y":-380},{"x":-390,"y":-370},{"x":-415,"y":-385},
{"x":-500,"y":-410},{"x":-540,"y":-380},{"x":-580,"y":-340},{"x":-620,"y":-300},{"x":-650,"y":-270},{"x":-680,"y":-240},{"x":-700,"y":-215},
{"x":-720,"y":-214},{"x":-736,"y":-222},{"x":-752,"y":-210},{"x":-768,"y":-223},{"x":-784,"y":-211},{"x":-800,"y":-222},{"x":-816,"y":-209},{"x":-832,"y":-221},{"x":-848,"y":-211},{"x":-864,"y":-223},{"x":-880,"y":-212},{"x":-896,"y":-221},{"x":-905,"y":-216},
{"x":-900,"y":-228},{"x":-884,"y":-236},{"x":-868,"y":-224},{"x":-852,"y":-237},{"x":-836,"y":-225},{"x":-820,"y":-236},{"x":-804,"y":-223},{"x":-788,"y":-235},{"x":-772,"y":-225},{"x":-756,"y":-237},{"x":-740,"y":-226},{"x":-730,"y":-232},
{"x":-740,"y":-242},{"x":-756,"y":-250},{"x":-772,"y":-238},{"x":-788,"y":-251},{"x":-804,"y":-239},{"x":-820,"y":-250},{"x":-836,"y":-237},{"x":-852,"y":-249},{"x":-868,"y":-239},{"x":-890,"y":-246},
{"x":-880,"y":-256},{"x":-864,"y":-264},{"x":-848,"y":-252},{"x":-832,"y":-265},{"x":-816,"y":-253},{"x":-800,"y":-264},{"x":-784,"y":-251},{"x":-768,"y":-263},{"x":-750,"y":-258},
{"x":-760,"y":-270},{"x":-776,"y":-278},{"x":-792,"y":-266},{"x":-808,"y":-279},{"x":-824,"y":-267},{"x":-840,"y":-278},{"x":-856,"y":-265},{"x":-870,"y":-272},
{"x":-860,"y":-284},{"x":-844,"y":-292},{"x":-828,"y":-280},{"x":-812,"y":-293},{"x":-796,"y":-281},{"x":-780,"y":-292},{"x":-760,"y":-286},
{"x":-770,"y":-298},{"x":-786,"y":-306},{"x":-802,"y":-294},{"x":-818,"y":-307},{"x":-834,"y":-295},{"x":-850,"y":-302},
{"x":-840,"y":-312},{"x":-824,"y":-320},{"x":-808,"y":-308},{"x":-792,"y":-321},{"x":-776,"y":-309},{"x":-760,"y":-320},{"x":-750,"y":-314},
{"x":-760,"y":-326},{"x":-776,"y":-334},{"x":-792,"y":-322},{"x":-808,"y":-335},{"x":-824,"y":-323},{"x":-840,"y":-330},
{"x":-830,"y":-340},{"x":-814,"y":-348},{"x":-798,"y":-336},{"x":-782,"y":-349},{"x":-766,"y":-337},{"x":-750,"y":-344},
{"x":-750,"y":-354},{"x":-766,"y":-362},{"x":-782,"y":-350},{"x":-798,"y":-363},{"x":-820,"y":-356},
{"x":-800,"y":-368},{"x":-784,"y":-376},{"x":-768,"y":-364},{"x":-755,"y":-372},
{"x":-745,"y":-382},{"x":-760,"y":-390},{"x":-776,"y":-378},{"x":-790,"y":-386},
{"x":-780,"y":-396},{"x":-764,"y":-404},{"x":-748,"y":-394},
{"x":-750,"y":-410},{"x":-762,"y":-418},{"x":-770,"y":-408},
{"x":-790,"y":-380},{"x":-810,"y":-340},{"x":-830,"y":-300},{"x":-860,"y":-260},{"x":-890,"y":-220},{"x":-910,"y":-180},{"x":-920,"y":-140},{"x":-930,"y":-100},{"x":-925,"y":-60},{"x":-905,"y":-30},{"x":-885,"y":0},{"x":-878,"y":30},
{"x":-875,"y":48},{"x":-860,"y":54},{"x":-845,"y":46},
{"x":-830,"y":38},{"x":-816,"y":30},{"x":-800,"y":40},{"x":-790,"y":34},
{"x":-795,"y":20},{"x":-811,"y":28},{"x":-827,"y":16},{"x":-843,"y":29},{"x":-859,"y":17},{"x":-875,"y":27},{"x":-885,"y":22},
{"x":-880,"y":6},{"x":-864,"y":14},{"x":-848,"y":2},{"x":-832,"y":15},{"x":-816,"y":3},{"x":-800,"y":14},{"x":-780,"y":8},
{"x":-770,"y":-4},{"x":-786,"y":-12},{"x":-802,"y":0},{"x":-818,"y":-13},{"x":-834,"y":-1},{"x":-850,"y":-12},{"x":-866,"y":1},{"x":-882,"y":-11},{"x":-900,"y":-6},
{"x":-915,"y":-18},{"x":-899,"y":-26},{"x":-883,"y":-14},{"x":-867,"y":-27},{"x":-851,"y":-15},{"x":-835,"y":-26},{"x":-819,"y":-13},{"x":-803,"y":-25},{"x":-787,"y":-15},{"x":-771,"y":-27},{"x":-760,"y":-20},
{"x":-750,"y":-32},{"x":-766,"y":-40},{"x":-782,"y":-28},{"x":-798,"y":-41},{"x":-814,"y":-29},{"x":-830,"y":-40},{"x":-846,"y":-27},{"x":-862,"y":-39},{"x":-878,"y":-29},{"x":-894,"y":-41},{"x":-910,"y":-30},{"x":-925,"y":-36},
{"x":-930,"y":-46},{"x":-914,"y":-54},{"x":-898,"y":-42},{"x":-882,"y":-55},{"x":-866,"y":-43},{"x":-850,"y":-54},{"x":-834,"y":-41},{"x":-818,"y":-53},{"x":-802,"y":-43},{"x":-786,"y":-55},{"x":-770,"y":-44},{"x":-754,"y":-54},{"x":-730,"y":-48},
{"x":-720,"y":-60},{"x":-736,"y":-68},{"x":-752,"y":-56},{"x":-768,"y":-69},{"x":-784,"y":-57},{"x":-800,"y":-68},{"x":-816,"y":-55},{"x":-832,"y":-67},{"x":-848,"y":-57},{"x":-864,"y":-69},{"x":-880,"y":-58},{"x":-896,"y":-68},{"x":-912,"y":-56},{"x":-935,"y":-62},
{"x":-930,"y":-74},{"x":-914,"y":-82},{"x":-898,"y":-70},{"x":-882,"y":-83},{"x":-866,"y":-71},{"x":-850,"y":-82},{"x":-834,"y":-69},{"x":-818,"y":-81},{"x":-802,"y":-71},{"x":-786,"y":-83},{"x":-770,"y":-72},{"x":-754,"y":-82},{"x":-738,"y":-70},{"x":-720,"y":-76},
{"x":-725,"y":-88},{"x":-741,"y":-96},{"x":-757,"y":-84},{"x":-773,"y":-97},{"x":-789,"y":-85},{"x":-805,"y":-96},{"x":-821,"y":-83},{"x":-837,"y":-95},{"x":-853,"y":-85},{"x":-869,"y":-97},{"x":-885,"y":-86},{"x":-901,"y":-96},{"x":-917,"y":-84},{"x":-935,"y":-90},
{"x":-930,"y":-102},{"x":-914,"y":-110},{"x":-898,"y":-98},{"x":-882,"y":-111},{"x":-866,"y":-99},{"x":-850,"y":-110},{"x":-834,"y":-97},{"x":-818,"y":-109},{"x":-802,"y":-99},{"x":-786,"y":-111},{"x":-770,"y":-100},{"x":-754,"y":-110},{"x":-738,"y":-98},{"x":-720,"y":-104},
{"x":-710,"y":-116},{"x":-726,"y":-124},{"x":-742,"y":-112},{"x":-758,"y":-125},{"x":-774,"y":-113},{"x":-790,"y":-124},{"x":-806,"y":-111},{"x":-822,"y":-123},{"x":-838,"y":-113},{"x":-854,"y":-125},{"x":-870,"y":-114},{"x":-886,"y":-124},{"x":-902,"y":-112},{"x":-925,"y":-118},
{"x":-925,"y":-130},{"x":-909,"y":-138},{"x":-893,"y":-126},{"x":-877,"y":-139},{"x":-861,"y":-127},{"x":-845,"y":-138},{"x":-829,"y":-125},{"x":-813,"y":-137},{"x":-797,"y":-127},{"x":-781,"y":-139},{"x":-765,"y":-128},{"x":-749,"y":-138},{"x":-733,"y":-126},{"x":-700,"y":-132},
{"x":-700,"y":-144},{"x":-716,"y":-152},{"x":-732,"y":-140},{"x":-748,"y":-153},{"x":-764,"y":-141},{"x":-780,"y":-152},{"x":-796,"y":-139},{"x":-812,"y":-151},{"x":-828,"y":-141},{"x":-844,"y":-153},{"x":-860,"y":-142},{"x":-876,"y":-152},{"x":-892,"y":-140},{"x":-920,"y":-146},
{"x":-925,"y":-158},{"x":-909,"y":-166},{"x":-893,"y":-154},{"x":-877,"y":-167},{"x":-861,"y":-155},{"x":-845,"y":-166},{"x":-829,"y":-153},{"x":-813,"y":-165},{"x":-797,"y":-155},{"x":-781,"y":-167},{"x":-765,"y":-156},{"x":-749,"y":-166},{"x":-733,"y":-154},{"x":-700,"y":-160},
{"x":-700,"y":-172},{"x":-716,"y":-180},{"x":-732,"y":-168},{"x":-748,"y":-181},{"x":-764,"y":-169},{"x":-780,"y":-180},{"x":-796,"y":-167},{"x":-812,"y":-179},{"x":-828,"y":-169},{"x":-844,"y":-181},{"x":-860,"y":-170},{"x":-876,"y":-180},{"x":-892,"y":-168},{"x":-920,"y":-174},
{"x":-915,"y":-186},{"x":-899,"y":-194},{"x":-883,"y":-182},{"x":-867,"y":-195},{"x":-851,"y":-183},{"x":-835,"y":-194},{"x":-819,"y":-181},{"x":-803,"y":-193},{"x":-787,"y":-183},{"x":-771,"y":-195},{"x":-755,"y":-184},{"x":-740,"y":-194},{"x":-705,"y":-188},
{"x":-710,"y":-200},{"x":-726,"y":-208},{"x":-742,"y":-196},{"x":-758,"y":-209},{"x":-774,"y":-197},{"x":-790,"y":-208},{"x":-806,"y":-195},{"x":-822,"y":-207},{"x":-838,"y":-197},{"x":-854,"y":-209},{"x":-870,"y":-198},{"x":-886,"y":-208},{"x":-910,"y":-202},
{"x":-890,"y":-225},{"x":-870,"y":-205},{"x":-845,"y":-220},{"x":-825,"y":-200},{"x":-800,"y":-215},{"x":-780,"y":-195},{"x":-760,"y":-210},{"x":-740,"y":-190},{"x":-755,"y":-165},{"x":-730,"y":-145},{"x":-750,"y":-120},{"x":-775,"y":-135},{"x":-800,"y":-115},{"x":-780,"y":-90},{"x":-805,"y":-70},{"x":-830,"y":-85},{"x":-855,"y":-65},{"x":-875,"y":-85},{"x":-900,"y":-70},{"x":-920,"y":-90},{"x":-900,"y":-115},{"x":-880,"y":-135},{"x":-905,"y":-155},{"x":-885,"y":-175},{"x":-860,"y":-160},{"x":-840,"y":-180},{"x":-820,"y":-160},{"x":-800,"y":-175},{"x":-780,"y":-155},{"x":-800,"y":-135},{"x":-825,"y":-120},{"x":-850,"y":-140},{"x":-870,"y":-120},{"x":-850,"y":-100},{"x":-825,"y":-50},{"x":-845,"y":-30},{"x":-865,"y":-10},{"x":-850,"y":15},{"x":-830,"y":30},{"x":-815,"y":5},{"x":-800,"y":-20},{"x":-780,"y":-40},{"x":-760,"y":-55},{"x":-745,"y":-80},{"x":-765,"y":-100},{"x":-790,"y":-110},{"x":-815,"y":-140},{"x":-840,"y":-165},{"x":-860,"y":-190},{"x":-880,"y":-215},{"x":-900,"y":-240},{"x":-880,"y":-265},{"x":-860,"y":-250},{"x":-840,"y":-275},{"x":-820,"y":-255},{"x":-800,"y":-280},{"x":-780,"y":-265},{"x":-790,"y":-300},{"x":-810,"y":-320},{"x":-790,"y":-345},{"x":-770,"y":-330},{"x":-760,"y":-355},{"x":-780,"y":-375},{"x":-800,"y":-360},{"x":-820,"y":-335},{"x":-840,"y":-310},{"x":-860,"y":-285},{"x":-885,"y":-260},{"x":-905,"y":-240},{"x":-925,"y":-220},
{"x":-936,"y":-224},{"x":-948,"y":-218},{"x":-960,"y":-232},{"x":-972,"y":-240},{"x":-980,"y":-234}
],
"ends": [{"x":0,"y":0,"s":"Start"},{"x":-980,"y":-234,"s":"Stop"}],
"notes": [{"x":-797,"y":768,"t":"Exponentially distributed runs"},{"x":-797,"y":668,"t":"Final time: 15938.45"}]
},
"resolve": {"axis": {"x": "independent", "y": "independent"}},
"layer": [
{
 "data": {"name": "path"},
 "transform": [{"window": [{"op": "row_number", "as": "k"}]}],
 "mark": {"type": "line", "strokeWidth": 1.7, "interpolate": "linear"},
 "encoding": {
  "x": {"field": "x", "type": "quantitative", "scale": {"domain": [-1000, 1000], "nice": false, "zero": false},
   "axis": {"orient": "bottom", "values": [-1000, -500, 0, 500, 1000], "labelExpr": "'' + datum.value", "grid": false, "tickSize": -5, "labelPadding": 17, "labelFontSize": 21, "labelFont": "Liberation Serif", "labelColor": "#000", "domainColor": "#262626", "tickColor": "#262626", "domainWidth": 1.7, "tickWidth": 1.5, "labelFlush": false, "labelOverlap": false, "title": "X microns", "titleFont": "Liberation Serif", "titleFontSize": 26, "titleFontWeight": "normal", "titleColor": "#000", "titleBaseline": "alphabetic", "titleY": 56, "titleX": 207}},
  "y": {"field": "y", "type": "quantitative", "scale": {"domain": [-1000, 1000], "nice": false, "zero": false},
   "axis": {"orient": "left", "values": [-1000, -500, 0, 500, 1000], "labelExpr": "'' + datum.value", "grid": false, "tickSize": -5, "labelPadding": 16, "labelFontSize": 21, "labelFont": "Liberation Serif", "labelColor": "#000", "domainColor": "#262626", "tickColor": "#262626", "domainWidth": 1.7, "tickWidth": 1.5, "labelFlush": false, "labelOverlap": false, "title": "Y microns", "titleFont": "Liberation Serif", "titleFontSize": 26, "titleFontWeight": "normal", "titleColor": "#000", "titleBaseline": "alphabetic", "titleAngle": 270, "titleX": -68.5, "titleY": 221}},
  "order": {"field": "k", "type": "quantitative"},
  "color": {"datum": "Path", "type": "nominal", "scale": {"domain": ["Path", "Start", "Stop"], "range": ["#0072BD", "#00FF00", "#FF0000"]},
   "legend": {"title": null, "orient": "none", "legendX": 332.5, "legendY": 14.5,
    "encode": {"symbols": {"update": {"stroke": {"scale": "color", "field": "value"}, "strokeWidth": {"signal": "datum.value === 'Path' ? 1.5 : 0"}, "size": {"signal": "datum.value === 'Path' ? 1150 : 180"}}}}}}
 }
},
{
 "data": {"name": "ends"},
 "mark": {"type": "point", "filled": true, "opacity": 1, "size": 165},
 "encoding": {
  "x": {"field": "x", "type": "quantitative", "scale": {"domain": [-1000, 1000], "nice": false, "zero": false},
   "axis": {"orient": "top", "values": [-1000, -500, 0, 500, 1000], "grid": false, "tickSize": -5, "labels": false, "title": null, "domainColor": "#262626", "tickColor": "#262626", "domainWidth": 1.7, "tickWidth": 1.5}},
  "y": {"field": "y", "type": "quantitative", "scale": {"domain": [-1000, 1000], "nice": false, "zero": false},
   "axis": {"orient": "right", "values": [-1000, -500, 0, 500, 1000], "grid": false, "tickSize": -5, "labels": false, "title": null, "domainColor": "#262626", "tickColor": "#262626", "domainWidth": 1.7, "tickWidth": 1.5}},
  "color": {"field": "s", "type": "nominal", "scale": {"domain": ["Path", "Start", "Stop"], "range": ["#0072BD", "#00FF00", "#FF0000"]},
   "legend": {"title": null, "orient": "none", "legendX": 332.5, "legendY": 14.5,
    "encode": {"symbols": {"update": {"stroke": {"scale": "color", "field": "value"}, "strokeWidth": {"signal": "datum.value === 'Path' ? 1.5 : 0"}, "size": {"signal": "datum.value === 'Path' ? 1150 : 180"}}}}}},
  "shape": {"field": "s", "type": "nominal", "scale": {"domain": ["Path", "Start", "Stop"], "range": ["stroke", "circle", "circle"]},
   "legend": {"title": null, "orient": "none", "legendX": 332.5, "legendY": 14.5,
    "encode": {"symbols": {"update": {"stroke": {"scale": "color", "field": "value"}, "strokeWidth": {"signal": "datum.value === 'Path' ? 1.5 : 0"}, "size": {"signal": "datum.value === 'Path' ? 1150 : 180"}}}}}}
 }
},
{
 "data": {"name": "notes"},
 "mark": {"type": "text", "align": "left", "baseline": "alphabetic", "font": "Liberation Serif", "fontSize": 18, "color": "#000"},
 "encoding": {
  "x": {"field": "x", "type": "quantitative", "scale": {"domain": [-1000, 1000], "nice": false, "zero": false}, "axis": null},
  "y": {"field": "y", "type": "quantitative", "scale": {"domain": [-1000, 1000], "nice": false, "zero": false}, "axis": null},
  "text": {"field": "t"}
 }
}
]
}
